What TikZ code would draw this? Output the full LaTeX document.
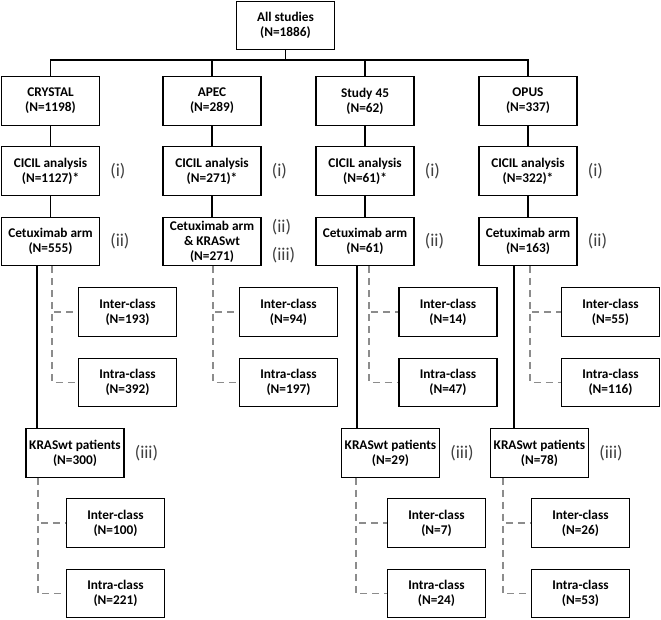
\documentclass[tikz,border=0pt]{standalone}
\usepackage{fontspec}
\setmainfont{Carlito}
\usepackage{tikz}
\usetikzlibrary{positioning}

\begin{document}
\begin{tikzpicture}[x=1pt, y=-1pt,
    box/.style={draw, line width=1.2pt, minimum width=98pt, minimum height=48.5pt, inner sep=1pt, align=center, font=\bfseries\fontsize{13.3}{15}\selectfont},
    tag/.style={font=\fontsize{18}{20}\selectfont, text=black!75, anchor=west, inner sep=0pt},
    link/.style={line width=1.1pt},
    armline/.style={line width=2pt},
    subline/.style={draw=black!45, line width=1.3pt, dash pattern=on 7pt off 5pt}]
    \useasboundingbox (0,0) rectangle (661,620);
    % Top level
    \node[box] (all) at (285.5,25.5) {All studies\\(N=1886)};
    \coordinate (bus) at (285.5,60);
    % Studies
    \node[box] (crysA) at (50.5,101) {CRYSTAL\\(N=1198)};
    \node[box] (apecA) at (212,101) {APEC\\(N=289)};
    \node[box] (stdyA) at (365,101) {Study 45\\(N=62)};
    \node[box] (opusA) at (528,101) {OPUS\\(N=337)};
    % CICIL analysis
    \node[box] (crysB) at (50.5,171) {CICIL analysis\\(N=1127)*};
    \node[box] (apecB) at (212,171) {CICIL analysis\\(N=271)*};
    \node[box] (stdyB) at (365,171) {CICIL analysis\\(N=61)*};
    \node[box] (opusB) at (528,171) {CICIL analysis\\(N=322)*};
    % Cetuximab arm
    \node[box] (crysC) at (50.5,241.5) {Cetuximab arm\\(N=555)};
    \node[box] (apecC) at (212,241.5) {Cetuximab arm\\\& KRASwt\\(N=271)};
    \node[box] (stdyC) at (365,241.5) {Cetuximab arm\\(N=61)};
    \node[box] (opusC) at (528,241.5) {Cetuximab arm\\(N=163)};
    % Inter/intra-class after cetuximab arm
    \node[box] (crysInterC) at (127.5,312) {Inter-class\\(N=193)};
    \node[box] (crysIntraC) at (127.5,382.5) {Intra-class\\(N=392)};
    \node[box] (apecInterC) at (288.5,312) {Inter-class\\(N=94)};
    \node[box] (apecIntraC) at (288.5,382.5) {Intra-class\\(N=197)};
    \node[box] (stdyInterC) at (448,312) {Inter-class\\(N=14)};
    \node[box] (stdyIntraC) at (448,382.5) {Intra-class\\(N=47)};
    \node[box] (opusInterC) at (610.5,312) {Inter-class\\(N=55)};
    \node[box] (opusIntraC) at (610.5,382.5) {Intra-class\\(N=116)};
    % KRASwt patients
    \node[box] (crysD) at (75,453) {KRASwt patients\\(N=300)};
    \node[box] (stdyD) at (390.5,453) {KRASwt patients\\(N=29)};
    \node[box] (opusD) at (539.5,453) {KRASwt patients\\(N=78)};
    \node[box] (crysInterD) at (115.5,523) {Inter-class\\(N=100)};
    \node[box] (crysIntraD) at (115.5,593.5) {Intra-class\\(N=221)};
    \node[box] (stdyInterD) at (436.5,523) {Inter-class\\(N=7)};
    \node[box] (stdyIntraD) at (436.5,593.5) {Intra-class\\(N=24)};
    \node[box] (opusInterD) at (580.5,523) {Inter-class\\(N=26)};
    \node[box] (opusIntraD) at (580.5,593.5) {Intra-class\\(N=53)};
    % Step tags
    \node[tag] at ([xshift=10pt]crysB.east) {(i)};
    \node[tag] at ([xshift=10pt]apecB.east) {(i)};
    \node[tag] at ([xshift=10pt]stdyB.east) {(i)};
    \node[tag] at ([xshift=10pt]opusB.east) {(i)};
    \node[tag] at ([xshift=10pt]crysC.east) {(ii)};
    \node[tag] at ([xshift=10pt,yshift=14pt]apecC.east) {(ii)};
    \node[tag] at ([xshift=10pt,yshift=-13.5pt]apecC.east) {(iii)};
    \node[tag] at ([xshift=10pt]stdyC.east) {(ii)};
    \node[tag] at ([xshift=10pt]opusC.east) {(ii)};
    \node[tag] at ([xshift=10pt]crysD.east) {(iii)};
    \node[tag] at ([xshift=10pt]stdyD.east) {(iii)};
    \node[tag] at ([xshift=10pt]opusD.east) {(iii)};
    % Solid connectors
    \draw[link] (all) -- (bus);
    \draw[link] (bus) -| (crysA);
    \draw[link] (bus) -| (apecA);
    \draw[link] (bus) -| (stdyA);
    \draw[link] (bus) -| (opusA);
    \draw[link] (crysA) -- (crysB) (crysB) -- (crysC);
    \draw[link] (apecA) -- (apecB) (apecB) -- (apecC);
    \draw[link] (stdyA) -- (stdyB) (stdyB) -- (stdyC);
    \draw[link] (opusA) -- (opusB) (opusB) -- (opusC);
    \draw[armline] ([xshift=-13.5pt]crysC.south) -- ([xshift=-13.5pt]crysC.south |- crysD.north);
    \draw[armline] ([xshift=-8.5pt]stdyC.south) -- ([xshift=-8.5pt]stdyC.south |- stdyD.north);
    \draw[armline] ([xshift=-14.5pt]opusC.south) -- ([xshift=-14.5pt]opusC.south |- opusD.north);
    % Dashed connectors
    \draw[subline] ([xshift=1.5pt]crysC.south) |- (crysIntraC.west);
    \draw[subline] ([xshift=1.5pt]crysC.south) |- (crysInterC.west);
    \draw[subline] ([xshift=1pt]apecC.south) |- (apecIntraC.west);
    \draw[subline] ([xshift=1pt]apecC.south) |- (apecInterC.west);
    \draw[subline] ([xshift=4pt]stdyC.south) |- (stdyIntraC.west);
    \draw[subline] ([xshift=4pt]stdyC.south) |- (stdyInterC.west);
    \draw[subline] ([xshift=2pt]opusC.south) |- (opusIntraC.west);
    \draw[subline] ([xshift=2pt]opusC.south) |- (opusInterC.west);
    \draw[subline] ([xshift=-37pt]crysD.south) |- (crysIntraD.west);
    \draw[subline] ([xshift=-37pt]crysD.south) |- (crysInterD.west);
    \draw[subline] ([xshift=-34.5pt]stdyD.south) |- (stdyIntraD.west);
    \draw[subline] ([xshift=-34.5pt]stdyD.south) |- (stdyInterD.west);
    \draw[subline] ([xshift=-36.5pt]opusD.south) |- (opusIntraD.west);
    \draw[subline] ([xshift=-36.5pt]opusD.south) |- (opusInterD.west);
\end{tikzpicture}
\end{document}
